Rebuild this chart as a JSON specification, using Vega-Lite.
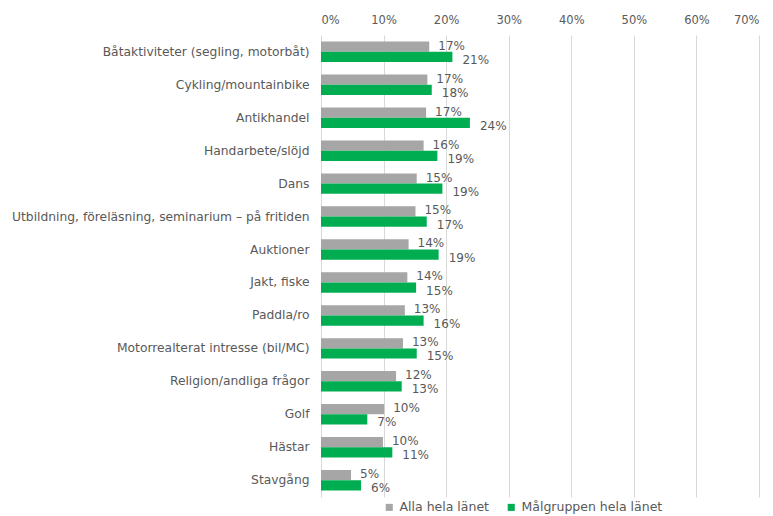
{
  "$schema": "https://vega.github.io/schema/vega-lite/v6.json",
  "width": 438,
  "height": 462,
  "autosize": "none",
  "padding": {"left": 321, "top": 35, "right": 14, "bottom": 19},
  "background": "white",
  "config": {
    "view": {"stroke": null},
    "font": "Liberation Sans",
    "axis": {"labelFont": "Liberation Sans", "labelColor": "#595959"}
  },
  "data": {
    "values": [
      {"cat": "Båtaktiviteter (segling, motorbåt)", "series": "Alla hela länet", "value": 0.173},
      {"cat": "Båtaktiviteter (segling, motorbåt)", "series": "Målgruppen hela länet", "value": 0.210},
      {"cat": "Cykling/mountainbike", "series": "Alla hela länet", "value": 0.170},
      {"cat": "Cykling/mountainbike", "series": "Målgruppen hela länet", "value": 0.177},
      {"cat": "Antikhandel", "series": "Alla hela länet", "value": 0.168},
      {"cat": "Antikhandel", "series": "Målgruppen hela länet", "value": 0.238},
      {"cat": "Handarbete/slöjd", "series": "Alla hela länet", "value": 0.164},
      {"cat": "Handarbete/slöjd", "series": "Målgruppen hela länet", "value": 0.186},
      {"cat": "Dans", "series": "Alla hela länet", "value": 0.153},
      {"cat": "Dans", "series": "Målgruppen hela länet", "value": 0.194},
      {"cat": "Utbildning, föreläsning, seminarium – på fritiden", "series": "Alla hela länet", "value": 0.151},
      {"cat": "Utbildning, föreläsning, seminarium – på fritiden", "series": "Målgruppen hela länet", "value": 0.169},
      {"cat": "Auktioner", "series": "Alla hela länet", "value": 0.140},
      {"cat": "Auktioner", "series": "Målgruppen hela länet", "value": 0.188},
      {"cat": "Jakt, fiske", "series": "Alla hela länet", "value": 0.138},
      {"cat": "Jakt, fiske", "series": "Målgruppen hela länet", "value": 0.152},
      {"cat": "Paddla/ro", "series": "Alla hela länet", "value": 0.134},
      {"cat": "Paddla/ro", "series": "Målgruppen hela länet", "value": 0.164},
      {"cat": "Motorrealterat intresse (bil/MC)", "series": "Alla hela länet", "value": 0.131},
      {"cat": "Motorrealterat intresse (bil/MC)", "series": "Målgruppen hela länet", "value": 0.153},
      {"cat": "Religion/andliga frågor", "series": "Alla hela länet", "value": 0.120},
      {"cat": "Religion/andliga frågor", "series": "Målgruppen hela länet", "value": 0.129},
      {"cat": "Golf", "series": "Alla hela länet", "value": 0.101},
      {"cat": "Golf", "series": "Målgruppen hela länet", "value": 0.074},
      {"cat": "Hästar", "series": "Alla hela länet", "value": 0.099},
      {"cat": "Hästar", "series": "Målgruppen hela länet", "value": 0.114},
      {"cat": "Stavgång", "series": "Alla hela länet", "value": 0.048},
      {"cat": "Stavgång", "series": "Målgruppen hela länet", "value": 0.064}
    ]
  },
  "encoding": {
    "y": {
      "field": "cat", "type": "nominal", "sort": null, "title": null,
      "scale": {"paddingInner": 0.38, "paddingOuter": 0.2},
      "axis": {"ticks": false, "domain": false, "labelPadding": 12, "labelLimit": 400, "labelFont": "DejaVu Sans", "labelFontSize": 12.3, "labelColor": "#595959"}
    },
    "yOffset": {"field": "series", "type": "nominal", "sort": ["Alla hela länet", "Målgruppen hela länet"], "scale": {"paddingInner": 0, "paddingOuter": 0}},
    "x": {
      "field": "value", "type": "quantitative", "title": null,
      "scale": {"domain": [0, 0.7], "nice": false},
      "axis": {"orient": "top", "format": ".0%", "values": [0, 0.1, 0.2, 0.3, 0.4, 0.5, 0.6, 0.7], "ticks": false, "domain": false, "labelPadding": 10, "labelFont": "DejaVu Sans", "labelFontSize": 11.5, "gridColor": "#D9D9D9", "labelColor": "#595959"}
    }
  },
  "layer": [
    {
      "mark": {"type": "bar"},
      "encoding": {
        "color": {
          "field": "series", "type": "nominal",
          "scale": {"domain": ["Alla hela länet", "Målgruppen hela länet"], "range": ["#A6A6A6", "#00AD50"]},
          "legend": {"title": null, "orient": "none", "legendX": 62, "legendY": 466, "direction": "horizontal", "symbolType": "square", "symbolSize": 50, "labelFont": "DejaVu Sans", "labelFontSize": 12.5, "labelColor": "#595959", "columnPadding": 16, "symbolStrokeWidth": 0}
        }
      }
    },
    {
      "mark": {"type": "text", "align": "left", "baseline": "middle", "dx": 9, "dy": -1, "font": "DejaVu Sans", "fontSize": 12, "color": "#595959"},
      "transform": [{"filter": "datum.series === 'Alla hela länet'"}],
      "encoding": {"text": {"field": "value", "type": "quantitative", "format": ".0%"}, "yOffset": {"field": "series", "type": "nominal", "sort": ["Alla hela länet", "Målgruppen hela länet"]}}
    },
    {
      "mark": {"type": "text", "align": "left", "baseline": "middle", "dx": 10, "dy": 3, "font": "DejaVu Sans", "fontSize": 12, "color": "#595959"},
      "transform": [{"filter": "datum.series === 'Målgruppen hela länet'"}],
      "encoding": {"text": {"field": "value", "type": "quantitative", "format": ".0%"}}
    }
  ]
}
